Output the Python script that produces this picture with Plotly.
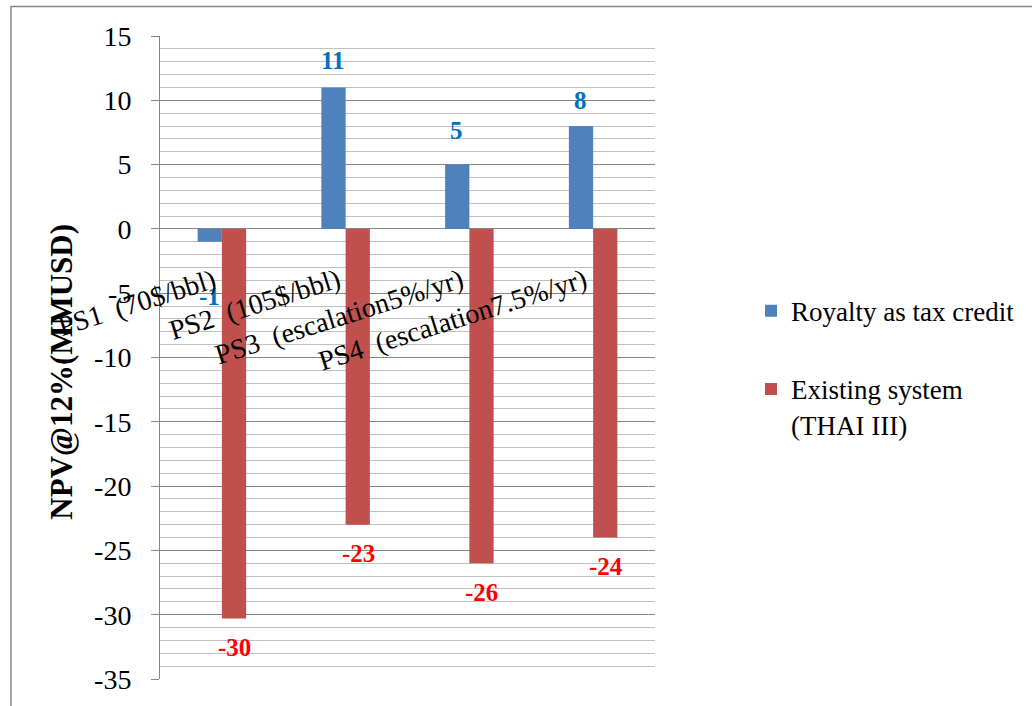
import plotly.graph_objects as go

# NPV @12% for each price scenario (MMUSD)
scenarios = ["PS1\u00a0 (70$/bbl)", "PS2\u00a0 (105$/bbl)",
             "PS3\u00a0 (escalation5%/yr)", "PS4\u00a0 (escalation7.5%/yr)"]
royalty_credit = [-1, 11, 5, 8]
existing_system = [-30.3, -23, -26, -24]

series_names = ["Royalty as tax credit", "Existing system<br>(THAI III)"]

y_ticks = [15, 10, 5, 0, -5, -10, -15, -20, -25, -30, -35]
y_tick_text = ["15", "10", "5", "0", "-5", "-10", "-15", "-20", "-25", "-30", "-35"]

# label placement (pixel offsets from bar ends)
royalty_label_shift = [-55, 27, 34, 26]
existing_label_shift = [-29, -29, -29, -29]

SERIF = "Liberation Serif"
BLUE = "#4F81BD"
RED = "#C0504D"

fig = go.Figure()
fig.add_trace(go.Bar(x=scenarios, y=royalty_credit, name=series_names[0],
                     marker=dict(color=BLUE, line=dict(width=0)),
                     legendgroup="a"))
fig.add_trace(go.Bar(x=scenarios, y=existing_system, name=series_names[1],
                     marker=dict(color=RED, line=dict(width=0)),
                     legendgroup="b"))

annotations = []
for cat, v, dy in zip(scenarios, royalty_credit, royalty_label_shift):
    annotations.append(dict(x=cat, y=v, xref="x", yref="y", xshift=-12.5, yshift=dy,
                            text=f"<b>{v:.0f}</b>", showarrow=False,
                            font=dict(family=SERIF, size=25, color="#0070C0")))
for cat, v, dy in zip(scenarios, existing_system, existing_label_shift):
    annotations.append(dict(x=cat, y=v, xref="x", yref="y", xshift=12.5, yshift=dy,
                            text=f"<b>{v:.0f}</b>", showarrow=False,
                            font=dict(family=SERIF, size=25, color="#FF0000")))

# rotated category labels sitting just below the zero line
for cat in scenarios:
    annotations.append(dict(x=cat, y=-2.45, xref="x", yref="y",
                            xanchor="right", yanchor="top", text=cat,
                            textangle=-17.5, showarrow=False,
                            font=dict(family=SERIF, size=28, color="black")))

# value axis title
annotations.append(dict(x=-0.238, y=0.4775, xref="paper", yref="paper",
                        text="<b>NPV@12%(MMUSD)</b>", textangle=-90, showarrow=False,
                        font=dict(family=SERIF, size=31, color="black")))

fig.update_layout(
    width=1032, height=706,
    margin=dict(l=160, r=372, t=36, b=27),
    paper_bgcolor="white", plot_bgcolor="white",
    barmode="group", bargap=0.608, bargroupgap=0,
    showlegend=True,
    legend=dict(x=1.194, y=0.61, xanchor="left", yanchor="top",
                traceorder="grouped", tracegroupgap=40, valign="top",
                font=dict(family=SERIF, size=27, color="black"),
                bgcolor="rgba(0,0,0,0)"),
    annotations=annotations,
    shapes=[dict(type="rect", xref="paper", yref="paper",
                 x0=-0.301, x1=1.8, y0=-0.06, y1=1.0459,
                 line=dict(color="#888888", width=1.5), layer="below")],
)

fig.update_xaxes(type="category", range=[-0.5, len(scenarios) - 0.5],
                 autorange=False, showticklabels=False, showgrid=False,
                 showline=False, zeroline=False, ticks="")
fig.update_yaxes(range=[-35, 15], autorange=False,
                 tickmode="array", tickvals=y_ticks, ticktext=y_tick_text,
                 showline=True, linecolor="#868686", linewidth=1,
                 ticks="outside", ticklen=8, tickcolor="#868686",
                 ticklabelstandoff=14,
                 tickfont=dict(family=SERIF, size=28, color="black"),
                 showgrid=True, gridcolor="#868686", gridwidth=1,
                 zeroline=False,
                 minor=dict(dtick=1, tick0=0, showgrid=True,
                            gridcolor="#C0C0C0", gridwidth=1))

fig.write_html("out.html")
